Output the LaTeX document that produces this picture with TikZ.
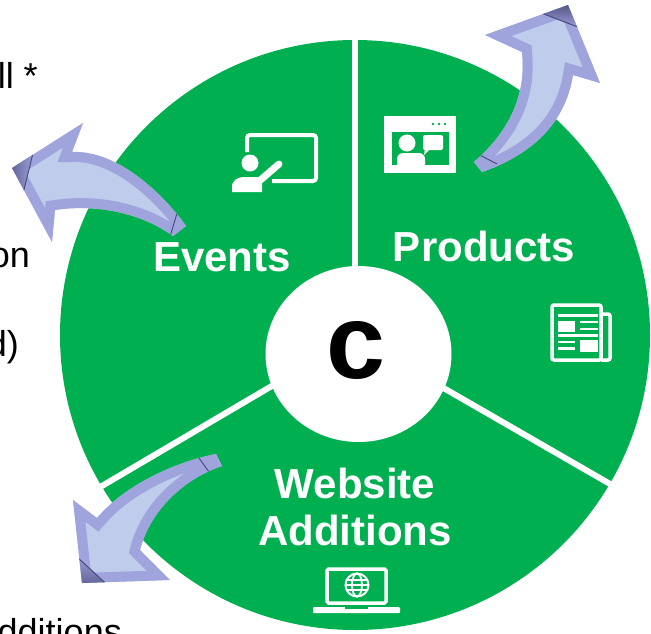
\documentclass[tikz,border=0pt]{standalone}
\usepackage{fontspec}
\setmainfont{Liberation Sans}
\definecolor{ggreen}{RGB}{0,176,80}
\definecolor{arrowborder}{RGB}{160,164,220}
\definecolor{arrowfill}{RGB}{192,204,236}
\definecolor{arrowdark}{RGB}{70,70,120}
\tikzset{
  seglabel/.style={text=white, font=\fontsize{42}{48}\selectfont\bfseries, inner sep=0pt, anchor=base},
  sidetext/.style={text=black, font=\fontsize{36}{40}\selectfont, inner sep=0pt, anchor=base east},
  divider/.style={white, line width=6pt},
  iconline/.style={white, line width=4pt},
  tipline/.style={arrowdark, line width=0.9pt},
}
\newcommand\eventsarrow{(12,168) -- (83,123) -- (72,152) .. controls (115,150) and (160,190) .. (186,226) -- (173,236) .. controls (140,212) and (95,204) .. (55,210) -- (52,242) -- cycle}
\newcommand\productsarrow{(568,5) -- (600,83) -- (573,75) .. controls (565,125) and (530,155) .. (482,172) -- (474,162) .. controls (505,135) and (527,100) .. (522,52) -- (485,35) -- cycle}
\newcommand\websitearrow{(82,583) -- (73,500) -- (97,518) .. controls (125,485) and (175,462) .. (216,454) -- (222,466) .. controls (185,478) and (150,510) .. (140,550) -- (170,580) -- cycle}
\begin{document}
\begin{tikzpicture}[x=1pt, y=-1pt]
\useasboundingbox (0,0) rectangle (651,633);
\clip (0,0) rectangle (651,633);

% side texts (cropped list)
\node[sidetext] (t1) at (38,88) {ll *};
\node[sidetext] (t2) at (30,267) {on};
\node[sidetext] (t3) at (19,356) {d)};
\node[sidetext] (t4) at (122,644) {dditions};

% wheel
\fill[ggreen] (355,335) circle (295pt);
\draw[divider] (355,337) -- (355,30);
\draw[divider] (355,337) -- (90,493);
\draw[divider] (355,337) -- (624,492);
\fill[white] (358.5,354) ellipse [x radius=93pt, y radius=88pt];
\node[text=black, font=\fontsize{106}{110}\selectfont\bfseries, inner sep=0pt, anchor=base] (c) at (356,378) {c};

% labels
\node[seglabel] (events) at (222,271) {Events};
\node[seglabel] (products) at (484,261) {Products};
\node[seglabel] (website) at (355,498) {Website};
\node[seglabel] (additions) at (355,545) {Additions};

% events icon (presenter)
\draw[iconline, rounded corners=3pt] (247,152) -- (247,135) -- (316,135) -- (316,181) -- (272,181);
\fill[white] (250,163) circle (8.5pt);
\fill[white] (232,192) -- (232,187) .. controls (232,180) and (238,177) .. (244,177) -- (258,177) -- (262,184) -- (262,192) -- cycle;
\draw[white, line width=7pt, line cap=round] (257,183) -- (279,164);

% products icon (video call)
\fill[white] (384,116) rectangle (456,173);
\fill[ggreen] (392,132) rectangle (449,165);
\fill[ggreen] (433,124) circle (1.3pt) (439,124) circle (1.3pt) (445,124) circle (1.3pt);
\fill[white] (407,143) circle (8.5pt);
\fill[white] (397,165) [rounded corners=6pt] -- (397,153) -- (425,153) [sharp corners] -- (425,165) -- cycle;
\fill[white, rounded corners=2pt] (423,135) rectangle (443,150);
\fill[white] (425,148) -- (431,148) -- (424,155) -- cycle;

% newspaper icon
\draw[iconline, line width=3.5pt, rounded corners=2pt] (552,305) rectangle (601,360);
\draw[iconline, line width=3.5pt, rounded corners=2pt] (601,314) -- (610,314) -- (610,360) -- (601,360);
\fill[white] (558,314) rectangle (598,317);
\fill[white] (558,321) rectangle (575,332);
\fill[white] (580,321) rectangle (598,323);
\fill[white] (580,328) rectangle (598,330);
\fill[white] (558,334) rectangle (598,337);
\fill[white] (558,341) rectangle (575,343);
\fill[white] (558,347) rectangle (575,350);
\fill[white] (580,340) rectangle (598,352);

% laptop icon
\draw[iconline, line width=3.5pt, rounded corners=1.5pt] (327,569) rectangle (386,603);
\fill[white, rounded corners=1pt] (313,607) rectangle (400,613);
\fill[ggreen] (345,607) rectangle (368,609);
\draw[white, line width=2pt] (357,585) circle (11.5pt);
\draw[white, line width=1.8pt] (357,585) ellipse [x radius=5pt, y radius=11.5pt];
\draw[white, line width=1.8pt] (345.5,585) -- (368.5,585);
\draw[white, line width=1.5pt] (347,580) -- (367,580) (347,590) -- (367,590);

% events arrow
\fill[arrowfill] \eventsarrow;
\begin{scope}
  \clip \eventsarrow;
  \draw[arrowborder, line width=20pt] \eventsarrow;
  \shade[left color=arrowdark, right color=arrowborder] (0,140) -- (35,145) -- (22,198) -- (0,200) -- cycle;
  \draw[tipline] (35,145) -- (22,198);
  \draw[tipline] (178,210) -- (169,240);
\end{scope}

% products arrow
\fill[arrowfill] \productsarrow;
\begin{scope}
  \clip \productsarrow;
  \draw[arrowborder, line width=20pt] \productsarrow;
  \shade[top color=arrowdark, bottom color=arrowborder] (530,0) -- (600,0) -- (583,29) -- (536,11) -- cycle;
  \draw[tipline] (536,11) -- (583,29);
  \draw[tipline] (474,152) -- (497,164);
\end{scope}

% website arrow
\fill[arrowfill] \websitearrow;
\begin{scope}
  \clip \websitearrow;
  \draw[arrowborder, line width=20pt] \websitearrow;
  \shade[bottom color=arrowdark, top color=arrowborder] (60,553) -- (76,556) -- (114,591) -- (114,600) -- (60,600) -- cycle;
  \draw[tipline] (76,556) -- (114,591);
  \draw[tipline] (196,454) -- (212,476);
\end{scope}
\end{tikzpicture}
\end{document}
